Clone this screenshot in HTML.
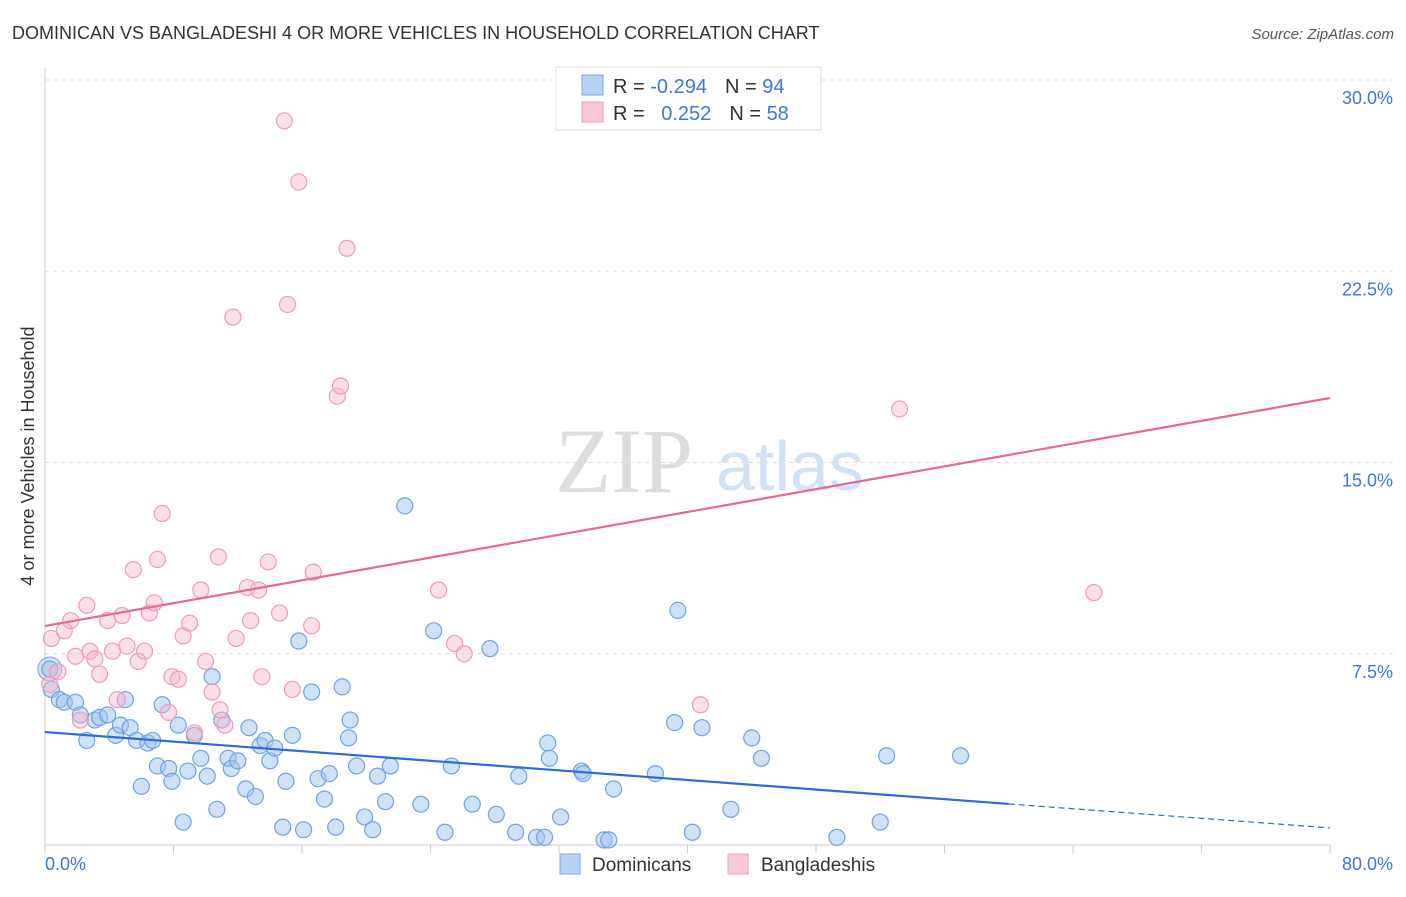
<!DOCTYPE html>
<html><head><meta charset="utf-8"><style>
body{margin:0;background:#fff;font-family:"Liberation Sans",sans-serif}
svg text{font-family:"Liberation Sans",sans-serif}
</style></head><body>
<svg id="c" width="1406" height="892" xmlns="http://www.w3.org/2000/svg">
<text x="12" y="39" font-size="18" fill="#333">DOMINICAN VS BANGLADESHI 4 OR MORE VEHICLES IN HOUSEHOLD CORRELATION CHART</text>
<text x="1394" y="39" font-size="15" fill="#555" text-anchor="end" font-style="italic">Source: ZipAtlas.com</text>
<text x="555" y="492" font-size="92" fill="#ddd" style="font-family:'Liberation Serif',serif">ZIP</text>
<text x="716" y="490" font-size="70" fill="#d2e2f5">atlas</text>
<text transform="translate(34,456) rotate(-90)" font-size="18" fill="#333" text-anchor="middle">4 or more Vehicles in Household</text>
<g id="grid"></g><g id="pts"></g><g id="lines"></g>
<g>
<rect x="556" y="67" width="265" height="63" fill="#fff" stroke="#ddd"/>
<rect x="582" y="75" width="21" height="20" fill="#b7d1f5" stroke="#7aa8e6"/>
<rect x="582" y="102" width="21" height="20" fill="#fbc9d6" stroke="#ee9cb5"/>
<text x="613" y="93" font-size="20" fill="#333">R = <tspan fill="#3b78d8">-0.294</tspan><tspan dx="18">N = </tspan><tspan fill="#3b78d8">94</tspan></text>
<text x="613" y="120" font-size="20" fill="#333">R = <tspan fill="#3b78d8" dx="11">0.252</tspan><tspan dx="18">N = </tspan><tspan fill="#3b78d8">58</tspan></text>
</g>
<g>
<rect x="560" y="854" width="20" height="20" fill="#b7d1f5" stroke="#7aa8e6"/>
<text x="592" y="871" font-size="19" fill="#333">Dominicans</text>
<rect x="728" y="854" width="20" height="20" fill="#fbc9d6" stroke="#ee9cb5"/>
<text x="761" y="871" font-size="19" fill="#333">Bangladeshis</text>
</g>
</svg>
<script>
const yTicks=[7.5,15,22.5,30];
const yTickLabels=["7.5%","15.0%","22.5%","30.0%"];
const blueX=[0.3,0.4,0.9,1.2,1.9,2.2,2.6,3.1,3.4,3.9,4.4,4.7,5.0,5.3,5.7,6.0,6.4,6.7,7.0,7.3,7.7,7.9,8.3,8.6,8.9,9.3,9.7,10.1,10.4,10.7,11.0,11.4,11.6,12.0,12.5,12.7,13.1,13.4,13.7,14.0,14.3,14.8,15.0,15.4,15.8,16.1,16.6,17.0,17.4,17.7,18.1,18.5,18.9,19.0,19.4,19.9,20.4,20.7,21.2,21.5,22.4,23.4,24.2,24.9,25.3,26.6,27.7,28.1,29.3,29.5,30.6,31.1,31.3,31.4,32.1,33.4,33.5,34.8,35.1,35.4,38.0,39.2,39.4,40.3,40.9,42.7,44.0,44.6,49.3,52.0,52.4,57.0];
const blueY=[6.9,6.1,5.7,5.6,5.6,5.1,4.1,4.9,5.0,5.1,4.3,4.7,5.7,4.6,4.1,2.3,4.0,4.1,3.1,5.5,3.0,2.5,4.7,0.9,2.9,4.3,3.4,2.7,6.6,1.4,4.9,3.4,3.0,3.3,2.2,4.6,1.9,3.9,4.1,3.3,3.8,0.7,2.5,4.3,8.0,0.6,6.0,2.6,1.8,2.8,0.7,6.2,4.2,4.9,3.1,1.1,0.6,2.7,1.7,3.1,13.3,1.6,8.4,0.5,3.1,1.6,7.7,1.2,0.5,2.7,0.3,0.3,4.0,3.4,1.1,2.9,2.8,0.2,0.2,2.2,2.8,4.8,9.2,0.5,4.6,1.4,4.2,3.4,0.3,0.9,3.5,3.5];
const pinkX=[0.4,0.3,0.8,1.2,1.6,1.9,2.2,2.6,2.8,3.1,3.4,3.9,4.2,4.5,4.8,5.1,5.5,5.8,6.2,6.5,6.8,7.0,7.3,7.7,7.9,8.3,8.6,9.0,9.3,9.7,10.0,10.4,10.8,10.9,11.2,11.7,11.9,12.6,12.8,13.3,13.5,13.9,14.6,14.9,15.1,15.4,15.8,16.6,16.7,18.2,18.4,18.8,24.5,25.5,26.1,40.8,53.2,65.3];
const pinkY=[8.1,6.3,6.8,8.4,8.8,7.4,4.9,9.4,7.6,7.3,6.7,8.8,7.6,5.7,9.0,7.8,10.8,7.2,7.6,9.1,9.5,11.2,13.0,5.2,6.6,6.5,8.2,8.7,4.4,10.0,7.2,6.0,11.3,5.3,4.7,20.7,8.1,10.1,8.8,10.0,6.6,11.1,9.1,28.4,21.2,6.1,26.0,8.6,10.7,17.6,18.0,23.4,10.0,7.9,7.5,5.5,17.1,9.9];
const blueTrend=[4.43,1.61,0.67]; // at x=0, 60, 80
const pinkTrend=[8.59,17.53]; // at x=0, 80
const X=v=>45+v*(1285/80), Y=v=>845-v*25.5;
const NS="http://www.w3.org/2000/svg";
function mk(t,a,p){const e=document.createElementNS(NS,t);for(const k in a)e.setAttribute(k,a[k]);p.appendChild(e);return e;}
const g=document.getElementById('grid');
yTicks.forEach((t,i)=>{
 const l=mk('line',{x1:45,x2:1394,y1:Y(t),y2:Y(t),stroke:'#ddd','stroke-dasharray':'4,4'},g);
 
 
 const tx=mk('text',{x:1393,y:Y(t)+24,'font-size':18,fill:'#3b78d8','text-anchor':'end'},g);
 tx.textContent=yTickLabels[i];
 
 
});
const ax=mk('line',{x1:45,x2:45,y1:68,y2:845,stroke:'#ccc'},g);


const bx=mk('line',{x1:45,x2:1330,y1:845,y2:845,stroke:'#ccc'},g);


for(let i=0;i<=80;i+=8){const t=mk('line',{x1:X(i),x2:X(i),y1:845,y2:853,stroke:'#ccc'},g);
 
 }
[[0,'0.0%','start',45],[80,'80.0%','end',1393]].forEach(a=>{const t=mk('text',{x:a[3],y:870,'font-size':18,fill:'#3b78d8','text-anchor':a[2]},g);t.textContent=a[1];
 
 });
const p=document.getElementById('pts');
const big=mk('circle',{cx:X(0.3),cy:Y(6.9),r:12,fill:'rgba(160,195,240,0.5)',stroke:'#7aa8e6'},p);


blueX.forEach((x,i)=>{const c=mk('circle',{cx:X(x),cy:Y(blueY[i]),r:8,fill:'rgba(160,195,240,0.5)',stroke:'#6fa3e0','stroke-width':1.2},p);
 
 });
pinkX.forEach((x,i)=>{const c=mk('circle',{cx:X(x),cy:Y(pinkY[i]),r:8,fill:'rgba(248,185,205,0.45)',stroke:'#ee9cb5','stroke-width':1.2},p);
 
 });
const L=document.getElementById('lines');
let a=mk('line',{x1:X(0),y1:Y(blueTrend[0]),x2:X(60),y2:Y(blueTrend[1]),stroke:'#2a6dd6','stroke-width':2.2},L);


a=mk('line',{x1:X(60),y1:Y(blueTrend[1]),x2:X(80),y2:Y(blueTrend[2]),stroke:'#2a6dd6','stroke-width':1.2,'stroke-dasharray':'6,4'},L);


a=mk('line',{x1:X(0),y1:Y(pinkTrend[0]),x2:X(80),y2:Y(pinkTrend[1]),stroke:'#e8679a','stroke-width':2.2},L);


</script>
</body></html>
